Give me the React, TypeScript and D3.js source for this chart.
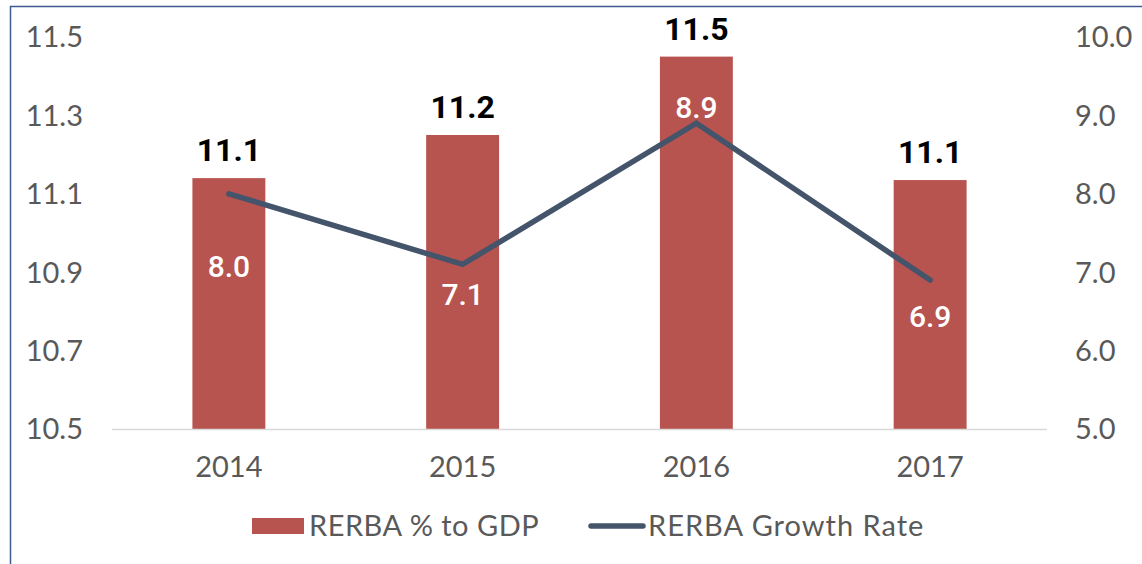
import React from "react";
import * as d3 from "d3";

const years = ["2014", "2015", "2016", "2017"];
const gdpShare = [11.14, 11.25, 11.45, 11.135];
const gdpShareLabels = ["11.1", "11.2", "11.5", "11.1"];
const growthRate = [8.0, 7.1, 8.9, 6.9];
const growthLabels = ["8.0", "7.1", "8.9", "6.9"];
const leftTicks = [10.5, 10.7, 10.9, 11.1, 11.3, 11.5];
const rightTicks = [5, 6, 7, 8, 9, 10];
const seriesNames = ["RERBA % to GDP", "RERBA Growth Rate"];

const W = 1142;
const H = 564;
const BAR = "#b85450";
const LINE = "#44546a";
const TXT = "#595959";
const TICKFONT = "Lato, 'Open Sans', sans-serif";
const LABELFONT = "Roboto, 'Noto Sans', sans-serif";

export default function App() {
  const x = d3.scaleBand<string>().domain(years).range([112, 1047]).paddingInner(0.688).paddingOuter(0.344);
  const yL = d3.scaleLinear().domain([10.5, 11.5]).range([429, 37]);
  const yR = d3.scaleLinear().domain([5, 10]).range([429, 37]);
  const cx = (d: string) => (x(d) as number) + x.bandwidth() / 2;

  const line = d3
    .line<number>()
    .x((_, i) => cx(years[i]))
    .y((d) => yR(d));

  const lineLabelDy = [72, 30, -16, 36];

  return (
    <svg width={W} height={H} style={{ position: "absolute", left: 0, top: 0, background: "#fff" }}>
      <rect x={10.5} y={6.5} width={1300} height={700} fill="none" stroke="#3f5a8f" strokeWidth={1.5} />

      {leftTicks.map((t) => (
        <text key={"l" + t} x={83} y={yL(t)} dy="0.36em" textAnchor="end" fontFamily={TICKFONT} fontSize={29} fill={TXT}>
          {t.toFixed(1)}
        </text>
      ))}
      {rightTicks.map((t) => (
        <text key={"r" + t} x={1075} y={yR(t)} dy="0.36em" textAnchor="start" fontFamily={TICKFONT} fontSize={29} fill={TXT}>
          {t.toFixed(1)}
        </text>
      ))}

      {years.map((yr, i) => (
        <rect key={"b" + yr} x={x(yr)} y={yL(gdpShare[i])} width={x.bandwidth()} height={yL(10.5) - yL(gdpShare[i])} fill={BAR} />
      ))}

      <line x1={112} x2={1047} y1={429.5} y2={429.5} stroke="#d9d9d9" strokeWidth={1.5} />

      {years.map((yr) => (
        <text key={"x" + yr} x={cx(yr)} y={477} textAnchor="middle" fontFamily={TICKFONT} fontSize={29} fill={TXT}>
          {yr}
        </text>
      ))}

      <path d={line(growthRate) || ""} fill="none" stroke={LINE} strokeWidth={5.5} strokeLinecap="round" strokeLinejoin="miter" />

      {years.map((yr, i) => (
        <text key={"bl" + yr} x={cx(yr)} y={yL(gdpShare[i]) - 17} textAnchor="middle" fontFamily={LABELFONT} fontWeight={700} fontSize={32} fill="#000">
          {gdpShareLabels[i]}
        </text>
      ))}

      {years.map((yr, i) => (
        <text key={"ll" + yr} x={cx(yr)} y={yR(growthRate[i]) + lineLabelDy[i]} dy="0.36em" textAnchor="middle" fontFamily={LABELFONT} fontWeight={500} fontSize={30} fill="#fff">
          {growthLabels[i]}
        </text>
      ))}

      <rect x={252} y={518} width={52} height={16} fill={BAR} />
      <text x={309} y={536} fontFamily={TICKFONT} fontSize={29} letterSpacing={0.5} fill={TXT}>
        {seriesNames[0]}
      </text>
      <line x1={591} x2={643} y1={526} y2={526} stroke={LINE} strokeWidth={5.5} strokeLinecap="round" />
      <text x={648} y={536} fontFamily={TICKFONT} fontSize={29} letterSpacing={1} fill={TXT}>
        {seriesNames[1]}
      </text>
    </svg>
  );
}
